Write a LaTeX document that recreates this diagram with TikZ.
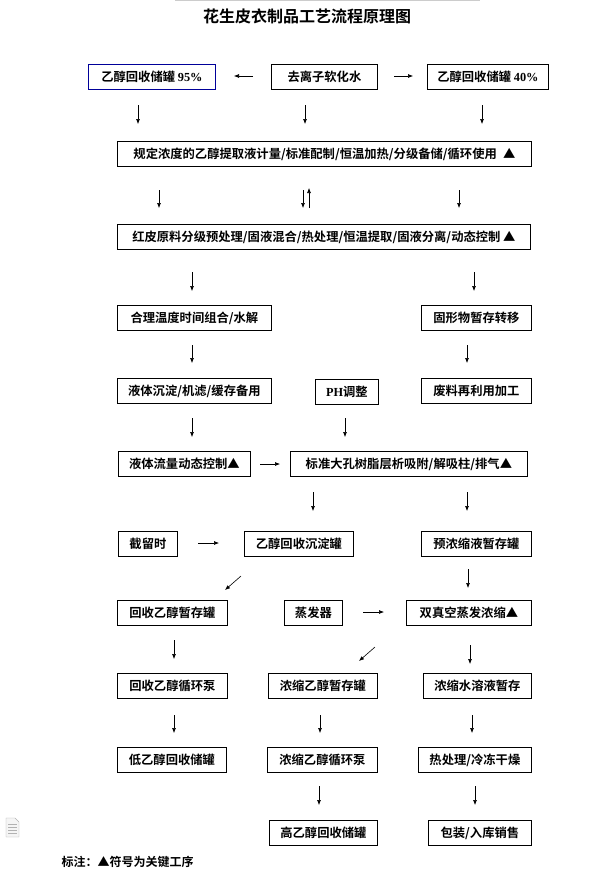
\documentclass[tikz,border=0pt]{standalone}
\usepackage{fontspec}
\setmainfont{Liberation Serif}
\newfontfamily\cjk{Noto Sans CJK SC}[BoldFont={Noto Sans CJK SC Bold}]
\usetikzlibrary{arrows.meta}
\newcounter{arrc}
\newcommand{\myarr}[4]{\stepcounter{arrc}%
  \coordinate (s\thearrc) at (#1,#2); \coordinate (e\thearrc) at (#3,#4);
  \draw[arr] (s\thearrc) -- (e\thearrc);}
\begin{document}
\begin{tikzpicture}[x=1pt,y=-1pt,
  box/.style={draw,line width=0.8pt,inner sep=0pt,anchor=north west},
  arr/.style={line width=0.6pt,-{Latex[length=5pt,width=4pt]}}]
\useasboundingbox (0,0) rectangle (613,875);
\draw[gray!40,line width=1pt] (175,1) -- (480,1);
\node[font=\cjk\bfseries\fontsize{16}{17}\selectfont] (title) at (307,16) {花生皮衣制品工艺流程原理图};
\newcommand{\bx}[6]{\node[box,minimum width=#4-#2,minimum height=#5-#3,#6] (#1) at (#2,#3) {};}
\newcommand{\bt}[2]{\node[font=\cjk\bfseries\fontsize{12.3}{13}\selectfont] at (#1.center) {#2};}
\bx{a1}{88}{64}{215}{89}{draw=blue!60!black}\bt{a1}{乙醇回收储罐 {\rmfamily 95\%}}
\bx{a2}{271}{64}{377}{89}{}\bt{a2}{去离子软化水}
\bx{a3}{427}{64}{548}{89}{}\bt{a3}{乙醇回收储罐 {\rmfamily 40\%}}
\bx{b}{117}{141}{531}{166}{}\bt{b}{规定浓度的乙醇提取液计量/标准配制/恒温加热/分级备储/循环使用\enspace ▲}
\bx{c}{117}{224}{530}{249}{}\bt{c}{红皮原料分级预处理/固液混合/热处理/恒温提取/固液分离/动态控制 ▲}
\bx{d1}{117}{305}{271}{330}{}\bt{d1}{合理温度时间组合/水解}
\bx{d2}{421}{305}{531}{330}{}\bt{d2}{固形物暂存转移}
\bx{e1}{117}{378}{271}{403}{}\bt{e1}{液体沉淀/机滤/缓存备用}
\bx{e2}{315}{379}{378}{404}{}\bt{e2}{{\rmfamily PH}调整}
\bx{e3}{421}{378}{531}{403}{}\bt{e3}{废料再利用加工}
\bx{f1}{118}{451}{250}{476}{}\bt{f1}{液体流量动态控制▲}
\bx{f2}{290}{451}{527}{476}{}\bt{f2}{标准大孔树脂层析吸附/解吸柱/排气▲}
\bx{g1}{118}{531}{177}{556}{}\bt{g1}{截留时}
\bx{g2}{244}{531}{353}{556}{}\bt{g2}{乙醇回收沉淀罐}
\bx{g3}{421}{531}{531}{556}{}\bt{g3}{预浓缩液暂存罐}
\bx{h1}{117}{600}{227}{625}{}\bt{h1}{回收乙醇暂存罐}
\bx{h2}{284}{600}{342}{625}{}\bt{h2}{蒸发器}
\bx{h3}{406}{600}{531}{625}{}\bt{h3}{双真空蒸发浓缩▲}
\bx{i1}{117}{673}{227}{698}{}\bt{i1}{回收乙醇循环泵}
\bx{i2}{268}{673}{377}{698}{}\bt{i2}{浓缩乙醇暂存罐}
\bx{i3}{423}{673}{531}{698}{}\bt{i3}{浓缩水溶液暂存}
\bx{j1}{117}{747}{226}{772}{}\bt{j1}{低乙醇回收储罐}
\bx{j2}{267}{747}{377}{772}{}\bt{j2}{浓缩乙醇循环泵}
\bx{j3}{418}{747}{531}{772}{}\bt{j3}{热处理/冷冻干燥}
\bx{k2}{269}{820}{377}{845}{}\bt{k2}{高乙醇回收储罐}
\bx{k3}{428}{820}{531}{845}{}\bt{k3}{包装/入库销售}
\node[anchor=west,font=\cjk\bfseries\fontsize{12}{13}\selectfont] (note) at (58,862) {标注：▲符号为关键工序};
% arrows
\myarr{253}{76}{234}{76}
\myarr{394}{76}{413}{76}
\myarr{138}{105}{138}{124}
\myarr{305}{105}{305}{124}
\myarr{482}{105}{482}{124}
\myarr{159}{190}{159}{208}
\myarr{303}{190}{303}{208}
\myarr{309}{208}{309}{188}
\myarr{459}{190}{459}{208}
\myarr{192}{272}{192}{291}
\myarr{474}{272}{474}{291}
\myarr{192}{345}{192}{363}
\myarr{467}{345}{467}{363}
\myarr{192}{418}{192}{437}
\myarr{345}{418}{345}{437}
\myarr{260}{464}{280}{464}
\myarr{313}{492}{313}{511}
\myarr{467}{492}{467}{511}
\myarr{198}{543}{219}{543}
\myarr{241}{576}{225}{590}
\myarr{468}{569}{468}{588}
\myarr{363}{612}{384}{612}
\myarr{174}{640}{174}{659}
\myarr{375}{647}{359}{661}
\myarr{470}{645}{470}{664}
\myarr{174}{715}{174}{733}
\myarr{320}{715}{320}{733}
\myarr{472}{715}{472}{733}
\myarr{319}{786}{319}{805}
\myarr{475}{786}{475}{805}
% doc icon
\draw[gray!60,fill=gray!8] (6,818) -- (15,818) -- (19,822) -- (19,837) -- (6,837) -- cycle;
\foreach \yy in {824,827,830,833} \draw[gray!60] (8,\yy) -- (17,\yy);
\end{tikzpicture}
\end{document}
